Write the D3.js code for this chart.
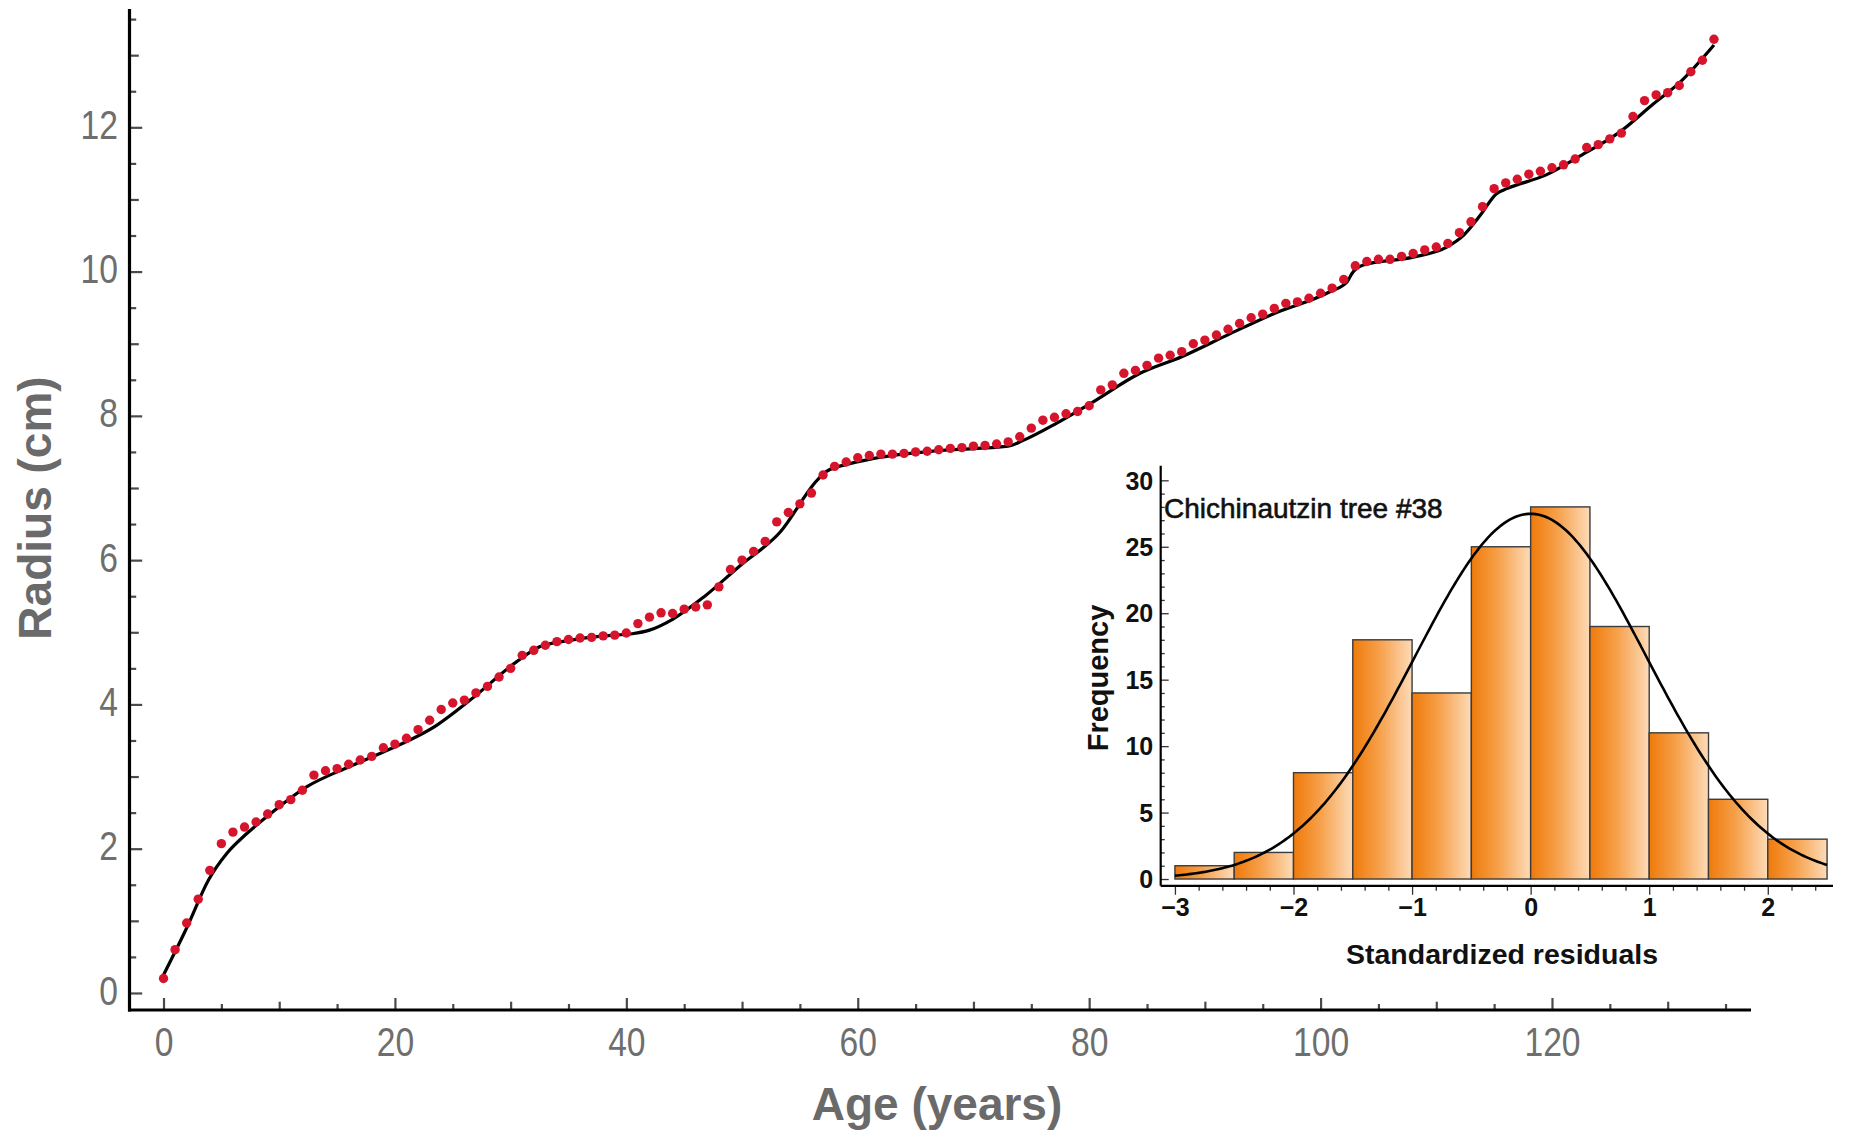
<!DOCTYPE html>
<html>
<head>
<meta charset="utf-8">
<script src="https://cdn.jsdelivr.net/npm/d3@7"></script>
<style>
  html, body { margin: 0; padding: 0; background: #ffffff; }
  svg { display: block; }
  .tick-main text { font-family: "Liberation Sans Narrow", "Arial Narrow", "Liberation Sans", sans-serif; fill: #6e6e6e; }
  .inset-label text { font-family: "Liberation Sans", Arial, sans-serif; font-weight: bold; fill: #111; }
</style>
</head>
<body>
<svg id="chart" width="1850" height="1134"></svg>
<script>
// Annual ring radius series (age in years, radius in cm)
const ages = [0,1,2,3,4,5,6,7,8,9,10,11,12,13,14,15,16,17,18,19,20,21,22,23,24,25,26,27,28,29,
  30,31,32,33,34,35,36,37,38,39,40,41,42,43,44,45,46,47,48,49,50,51,52,53,54,55,56,57,58,59,
  60,61,62,63,64,65,66,67,68,69,70,71,72,73,74,75,76,77,78,79,80,81,82,83,84,85,86,87,88,89,
  90,91,92,93,94,95,96,97,98,99,100,101,102,103,104,105,106,107,108,109,110,111,112,113,114,
  115,116,117,118,119,120,121,122,123,124,125,126,127,128,129,130,131,132,133,134];

const radius = [0.20,0.60,0.97,1.30,1.70,2.07,2.23,2.30,2.37,2.48,2.61,2.68,2.81,3.02,3.08,3.11,
  3.17,3.23,3.28,3.40,3.45,3.53,3.65,3.78,3.93,4.02,4.06,4.16,4.25,4.38,4.50,4.68,4.75,4.82,4.87,
  4.90,4.92,4.93,4.95,4.96,4.99,5.12,5.21,5.27,5.26,5.32,5.35,5.38,5.63,5.87,6.00,6.12,6.26,6.53,
  6.66,6.78,6.93,7.18,7.30,7.36,7.42,7.45,7.47,7.47,7.48,7.50,7.51,7.53,7.55,7.56,7.58,7.59,7.61,
  7.64,7.71,7.83,7.94,7.98,8.03,8.06,8.14,8.36,8.43,8.59,8.63,8.70,8.80,8.84,8.89,9.00,9.05,9.12,
  9.20,9.28,9.36,9.41,9.49,9.56,9.58,9.63,9.70,9.77,9.89,10.08,10.14,10.17,10.17,10.21,10.25,
  10.30,10.34,10.39,10.54,10.69,10.90,11.15,11.23,11.28,11.35,11.39,11.44,11.48,11.56,11.72,
  11.76,11.84,11.92,12.15,12.37,12.45,12.48,12.58,12.77,12.93,13.22];

// Fitted growth model, sampled along the age axis
const fitAge = [0,2,3.9,5.5,7.2,8.9,12.4,16.1,19.0,23.6,26.5,30.5,32.5,34.8,38,40.5,42,44,46.7,
  49.8,53.3,56.5,57.3,59.1,61.4,67.1,73.0,74.3,77.2,80.1,84.4,88,92.2,96,100.8,102.3,102.7,103.7,
  108.0,110.9,112.4,113.8,115.2,116.1,119.5,122.4,125.9,128.8,131.1,134];
const fitRadius = [0.25,0.90,1.57,1.94,2.21,2.44,2.86,3.14,3.34,3.71,4.06,4.59,4.80,4.88,4.95,4.98,
  5.03,5.18,5.49,5.92,6.39,7.11,7.23,7.33,7.41,7.52,7.58,7.66,7.90,8.17,8.59,8.82,9.14,9.42,9.72,
  9.86,9.97,10.09,10.20,10.34,10.51,10.78,11.08,11.15,11.34,11.60,11.94,12.33,12.63,13.14];

const xTickLabels = [0, 20, 40, 60, 80, 100, 120];
const yTickLabels = [0, 2, 4, 6, 8, 10, 12];

// Histogram of standardized residuals
const binEdges = [-3,-2.5,-2,-1.5,-1,-0.5,0,0.5,1,1.5,2,2.5];
const binCounts = [1,2,8,18,14,25,28,19,11,6,3];
const residualMean = 0.0;
const residualSD = 0.98;
const insetXTicks = [-3,-2,-1,0,1,2];
const insetYTicks = [0,5,10,15,20,25,30];
const insetTitle = "Chichinautzin tree #38";

const svg = d3.select("#chart");
svg.append("rect").attr("width", 1850).attr("height", 1134).attr("fill", "#fff");

// squeeze tick numerals to a narrow face
function narrow(sel, factor) {
  sel.each(function () {
    const w = this.getComputedTextLength();
    d3.select(this).attr("textLength", w * factor).attr("lengthAdjust", "spacingAndGlyphs");
  });
}

// ---------- main panel ----------
const x = d3.scaleLinear().domain([-2.94, 137.2]).range([129.5, 1751]);
const y = d3.scaleLinear().domain([-0.236, 13.64]).range([1010, 9]);

const main = svg.append("g");

function tickGroup(gen, cls) {
  const g = main.append("g").attr("class", cls).call(gen);
  g.select(".domain").remove();
  return g;
}

// y ticks (pointing into the plot)
const yHalf = d3.range(0.5, 13.6, 1);
const yOdd = [1, 3, 5, 7, 9, 11, 13];
[[yHalf, 6.7], [yOdd, 9.3], [yTickLabels, 12.7]].forEach(([vals, len]) => {
  const g = tickGroup(d3.axisRight(y).tickValues(vals).tickSize(len).tickFormat(""), "tick-main");
  g.attr("transform", `translate(${x.range()[0]},0)`);
  g.selectAll("line").attr("stroke", "#4a4a4a").attr("stroke-width", 2.2);
});
const yLab = tickGroup(d3.axisLeft(y).tickValues(yTickLabels).tickSize(0).tickPadding(11.5), "tick-main");
yLab.attr("transform", `translate(${x.range()[0]},0)`);
yLab.selectAll("text").attr("font-size", 41).attr("dy", "0.27em").call(narrow, 0.82);

// x ticks (pointing up into the plot)
const xFive = d3.range(5, 136, 10);
const xTen = [10, 30, 50, 70, 90, 110, 130];
[[xFive, 6], [xTen, 8.3], [xTickLabels, 12]].forEach(([vals, len]) => {
  const g = tickGroup(d3.axisTop(x).tickValues(vals).tickSize(len).tickFormat(""), "tick-main");
  g.attr("transform", `translate(0,${y.range()[0]})`);
  g.selectAll("line").attr("stroke", "#4a4a4a").attr("stroke-width", 2.2);
});
const xLab = tickGroup(d3.axisBottom(x).tickValues(xTickLabels).tickSize(0).tickPadding(17), "tick-main");
xLab.attr("transform", `translate(0,${y.range()[0]})`);
xLab.selectAll("text").attr("font-size", 41).call(narrow, 0.82);

// axis lines
main.append("line")
  .attr("x1", x.range()[0]).attr("x2", x.range()[0])
  .attr("y1", y.range()[1]).attr("y2", y.range()[0] + 1.5)
  .attr("stroke", "#000").attr("stroke-width", 3.2);
main.append("line")
  .attr("x1", x.range()[0] - 1.5).attr("x2", x.range()[1])
  .attr("y1", y.range()[0]).attr("y2", y.range()[0])
  .attr("stroke", "#000").attr("stroke-width", 3.2);

// axis titles
main.append("text")
  .attr("transform", `translate(51,508) rotate(-90)`)
  .attr("text-anchor", "middle")
  .attr("font-family", "'Liberation Sans', Arial, sans-serif")
  .attr("font-weight", "bold").attr("font-size", 46).attr("fill", "#6a6a6a")
  .text("Radius (cm)");
main.append("text")
  .attr("x", 937).attr("y", 1120)
  .attr("text-anchor", "middle")
  .attr("font-family", "'Liberation Sans', Arial, sans-serif")
  .attr("font-weight", "bold").attr("font-size", 46).attr("fill", "#6a6a6a")
  .text("Age (years)");

// fitted curve
const fitPts = fitAge.map((a, i) => [a, fitRadius[i]]);
main.append("path")
  .datum(fitPts)
  .attr("fill", "none").attr("stroke", "#000").attr("stroke-width", 3.2)
  .attr("stroke-linejoin", "round")
  .attr("d", d3.line().x(d => x(d[0])).y(d => y(d[1])).curve(d3.curveMonotoneX));

// measured radii
main.append("g").selectAll("circle")
  .data(ages.map((a, i) => [a, radius[i]]))
  .join("circle")
  .attr("cx", d => x(d[0])).attr("cy", d => y(d[1]))
  .attr("r", 4.7).attr("fill", "#d6152d");

// ---------- inset histogram ----------
const ix = d3.scaleLinear().domain([-3.12, 2.55]).range([1160.7, 1833]);
const iy = d3.scaleLinear().domain([-0.51, 31.1]).range([885.8, 465.7]);
const inset = svg.append("g");

const defs = svg.append("defs");
const grad = defs.append("linearGradient").attr("id", "barShade")
  .attr("x1", 0).attr("x2", 1).attr("y1", 0).attr("y2", 0);
grad.append("stop").attr("offset", "0%").attr("stop-color", "#ef7a0a");
grad.append("stop").attr("offset", "45%").attr("stop-color", "#f6a04a");
grad.append("stop").attr("offset", "100%").attr("stop-color", "#fddbb8");

const bins = binCounts.map((c, i) => ({ x0: binEdges[i], x1: binEdges[i + 1], count: c }));
inset.append("g").selectAll("rect")
  .data(bins)
  .join("rect")
  .attr("x", d => ix(d.x0)).attr("width", d => ix(d.x1) - ix(d.x0))
  .attr("y", d => iy(d.count)).attr("height", d => iy(0) - iy(d.count))
  .attr("fill", "url(#barShade)")
  .attr("stroke", "#3c3c3c").attr("stroke-width", 1.4);

// fitted normal density scaled to counts
const nTotal = d3.sum(binCounts);
const binWidth = binEdges[1] - binEdges[0];
const normalCurve = d3.range(-3, 2.5001, 0.02).map(v => [v,
  nTotal * binWidth / (residualSD * Math.sqrt(2 * Math.PI)) *
  Math.exp(-((v - residualMean) ** 2) / (2 * residualSD * residualSD))]);
inset.append("path")
  .datum(normalCurve)
  .attr("fill", "none").attr("stroke", "#000").attr("stroke-width", 2.6)
  .attr("d", d3.line().x(d => ix(d[0])).y(d => iy(d[1])));

// inset axes
function insetTicks(gen, tx, ty) {
  const g = inset.append("g").attr("transform", `translate(${tx},${ty})`).call(gen);
  g.select(".domain").remove();
  g.selectAll("line").attr("stroke", "#333").attr("stroke-width", 1.3);
  return g;
}
const ixMinor = d3.range(-3, 2.55, 0.2).filter(v => Math.abs(v - Math.round(v)) > 0.01);
insetTicks(d3.axisBottom(ix).tickValues(ixMinor).tickSize(5).tickFormat(""), 0, iy.range()[0]);
insetTicks(d3.axisBottom(ix).tickValues(insetXTicks).tickSize(9).tickFormat(""), 0, iy.range()[0]);
const iyMinor = d3.range(1, 31, 1).filter(v => v % 5 !== 0);
insetTicks(d3.axisRight(iy).tickValues(iyMinor).tickSize(4).tickFormat(""), ix.range()[0], 0);
insetTicks(d3.axisRight(iy).tickValues(insetYTicks).tickSize(8).tickFormat(""), ix.range()[0], 0);

const ixLab = insetTicks(d3.axisBottom(ix).tickValues(insetXTicks).tickSize(0).tickPadding(12)
  .tickFormat(d => d < 0 ? "\u2212" + Math.abs(d) : d), 0, iy.range()[0]);
ixLab.attr("class", "inset-label").selectAll("text").attr("font-size", 25);
const iyLab = insetTicks(d3.axisLeft(iy).tickValues(insetYTicks).tickSize(0).tickPadding(7.5), ix.range()[0], 0);
iyLab.attr("class", "inset-label").selectAll("text").attr("font-size", 25).attr("dy", "0.35em");

inset.append("line")
  .attr("x1", ix.range()[0]).attr("x2", ix.range()[0])
  .attr("y1", iy.range()[1]).attr("y2", iy.range()[0])
  .attr("stroke", "#000").attr("stroke-width", 2.2);
inset.append("line")
  .attr("x1", ix.range()[0]).attr("x2", ix.range()[1])
  .attr("y1", iy.range()[0]).attr("y2", iy.range()[0])
  .attr("stroke", "#000").attr("stroke-width", 2.2);

inset.append("text")
  .attr("x", 1164).attr("y", 518)
  .attr("font-family", "'Liberation Sans', Arial, sans-serif")
  .attr("font-size", 28).attr("fill", "#111")
  .attr("stroke", "#111").attr("stroke-width", 0.6)
  .text(insetTitle);
inset.append("text")
  .attr("transform", "translate(1108,678) rotate(-90)")
  .attr("text-anchor", "middle")
  .attr("font-family", "'Liberation Sans', Arial, sans-serif")
  .attr("font-weight", "bold").attr("font-size", 29).attr("fill", "#111")
  .text("Frequency");
inset.append("text")
  .attr("x", 1502).attr("y", 964)
  .attr("text-anchor", "middle")
  .attr("font-family", "'Liberation Sans', Arial, sans-serif")
  .attr("font-weight", "bold").attr("font-size", 28.5).attr("fill", "#111")
  .text("Standardized residuals");
</script>
</body>
</html>
